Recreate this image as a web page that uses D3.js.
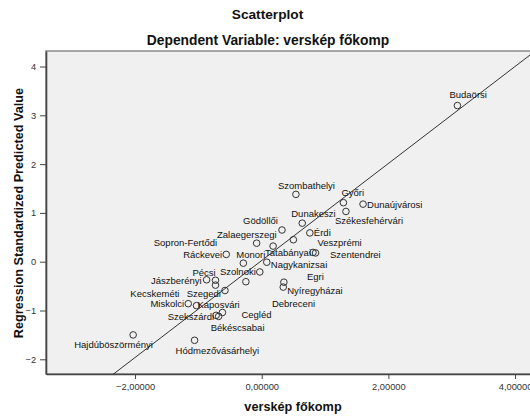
<!DOCTYPE html>
<html><head><meta charset="utf-8">
<script src="https://d3js.org/d3.v7.min.js"></script>
<style>body{margin:0;background:#fff}svg{display:block}</style>
</head><body>
<svg id="c" width="530" height="418"></svg>
<script>
// ---- data ----
const cities = ["Budaörsi","Szombathelyi","Győri","Dunaújvárosi","Székesfehérvári","Dunakeszi","Érdi","Gödöllői","Zalaegerszegi","Sopron-Fertődi","Ráckevei","Monori","Tatabányai","Veszprémi","Szentendrei","Nagykanizsai","Szolnoki","Pécsi","Jászberényi","Kecskeméti","Szegedi","Egri","Nyíregyházai","Debreceni","Miskolci","Kaposvári","Szekszárdi","Cegléd","Békéscsabai","Hajdúböszörményi","Hódmezővásárhelyi"];
const verskepFokomp = [3.09,0.54,1.29,1.60,1.33,0.64,0.76,0.32,-0.08,0.18,-0.56,-0.29,0.81,0.50,0.85,0.08,-0.03,-0.73,-0.87,-0.73,-0.58,0.35,0.34,-0.25,-1.16,-1.03,-0.72,-0.62,-0.68,-2.03,-1.06];
const predictedStd = [3.20,1.38,1.21,1.18,1.03,0.79,0.59,0.65,0.38,0.32,0.15,-0.03,0.19,0.45,0.18,-0.01,-0.21,-0.38,-0.37,-0.48,-0.59,-0.42,-0.52,-0.41,-0.86,-0.90,-1.10,-1.04,-1.12,-1.50,-1.61];
const xTicks = [-2,0,2,4];
const yTicks = [-2,-1,0,1,2,3,4];
const fitLine = {intercept:0.025, slope:0.994};
// label placement (layout only): [dx, dy, anchor]
const labelPlace = [[-8,-11,"start"],[-18,-9,"start"],[-2,-10,"start"],[4,0,"start"],[-11,9,"start"],[-11,-10,"start"],[4,0,"start"],[-4,-9,"end"],[20,-9,"end"],[-56,-4,"end"],[-4,0,"end"],[-7,-9,"start"],[-2,0,"end"],[24,3,"start"],[14.5,2,"start"],[4,2,"start"],[-4,0,"end"],[-23,-8,"start"],[-5,1,"end"],[-36,8,"end"],[-4,3,"end"],[23,-6,"start"],[4,3.5,"start"],[26,22,"start"],[-4,0,"end"],[1,-1,"start"],[-2,1,"end"],[19,2,"start"],[-8,11,"start"],[-59,10,"start"],[-19,10,"start"]];

// ---- layout ----
const svg = d3.select("#c");
const L=46, R=540, T=51, B=374;
const x = d3.scaleLinear().domain([-3.406, 4.394]).range([L, R]);
const y = d3.scaleLinear().domain([-2.301, 4.318]).range([B, T]);
const font = "Arial, 'Liberation Sans', sans-serif";

svg.append("text").attr("x",267.5).attr("y",14).attr("text-anchor","middle").attr("dominant-baseline","central")
  .attr("font-family",font).attr("font-weight","bold").attr("font-size",13.7).attr("fill","#111").text("Scatterplot");
svg.append("text").attr("x",268).attr("y",40.5).attr("text-anchor","middle").attr("dominant-baseline","central")
  .attr("font-family",font).attr("font-weight","bold").attr("font-size",13.8).attr("fill","#111").text("Dependent Variable: verskép főkomp");

svg.append("rect").attr("x",L).attr("y",T).attr("width",R-L).attr("height",B-T).attr("fill","#f0f0f0")
  .attr("stroke","#8a8a8a").attr("stroke-width",1.5);

svg.append("clipPath").attr("id","pc").append("rect").attr("x",L).attr("y",T).attr("width",R-L).attr("height",B-T);

// axes
const xa = svg.append("g").attr("transform",`translate(0,${B})`)
  .call(d3.axisBottom(x).tickValues(xTicks).tickSize(5).tickSizeOuter(0).tickFormat(d=>d3.format(".5f")(d).replace(".",",")));
const ya = svg.append("g").attr("transform",`translate(${L},0)`)
  .call(d3.axisLeft(y).tickValues(yTicks).tickSize(6).tickSizeOuter(0).tickFormat(d3.format("d")));
[xa,ya].forEach(g=>{
  g.select(".domain").attr("stroke","#444").attr("stroke-width",1.6);
  g.selectAll(".tick line").attr("stroke","#444");
  g.selectAll(".tick text").attr("font-family",font).attr("font-size",9.3).attr("fill","#333");
});
xa.selectAll(".tick text").attr("dy","0.9em");
ya.selectAll(".tick text").attr("dx","-0.1em");

// axis titles
svg.append("text").attr("x",293).attr("y",407).attr("text-anchor","middle").attr("dominant-baseline","central")
  .attr("font-family",font).attr("font-weight","bold").attr("font-size",12.7).attr("fill","#111").text("verskép főkomp");
svg.append("text").attr("transform",`translate(19,${(T+B)/2+0.5}) rotate(-90)`).attr("text-anchor","middle").attr("dominant-baseline","central")
  .attr("font-family",font).attr("font-weight","bold").attr("font-size",12.7).attr("fill","#111").text("Regression Standardized Predicted Value");

const plot = svg.append("g").attr("clip-path","url(#pc)");
const xs = [x.domain()[0], x.domain()[1]];
plot.append("line").attr("x1",x(xs[0])).attr("y1",y(fitLine.intercept+fitLine.slope*xs[0]))
  .attr("x2",x(xs[1])).attr("y2",y(fitLine.intercept+fitLine.slope*xs[1])).attr("stroke","#333").attr("stroke-width",1);

const pts = cities.map((c,i)=>({c, vx:verskepFokomp[i], vy:predictedStd[i], lp:labelPlace[i]}));
plot.selectAll("circle").data(pts).join("circle").attr("cx",d=>x(d.vx)).attr("cy",d=>y(d.vy)).attr("r",3.3)
  .attr("fill","none").attr("stroke","#333").attr("stroke-width",1);
plot.selectAll("text.lab").data(pts).join("text").attr("class","lab")
  .attr("x",d=>x(d.vx)+d.lp[0]).attr("y",d=>y(d.vy)+d.lp[1]).attr("text-anchor",d=>d.lp[2]).attr("dominant-baseline","central")
  .attr("font-family",font).attr("font-size",9.5).attr("fill","#111").text(d=>d.c);
</script>
</body></html>
